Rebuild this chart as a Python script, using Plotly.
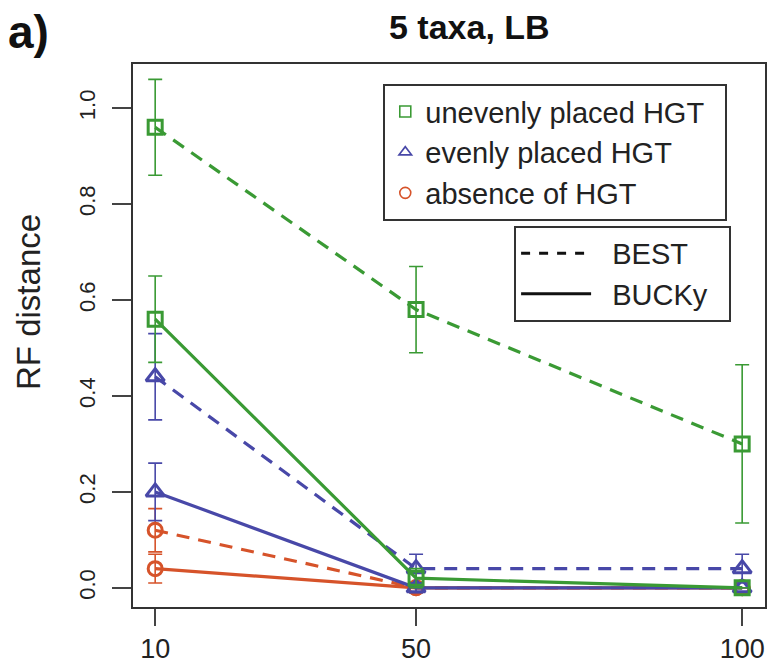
import plotly.graph_objects as go

# ---- data ----
samples = [10, 50, 100]

uneven_best = [0.96, 0.58, 0.30]
uneven_best_err = [0.10, 0.09, 0.165]
uneven_bucky = [0.56, 0.02, 0.00]
uneven_bucky_err = [0.09, 0.02, 0.0]

even_best = [0.44, 0.04, 0.04]
even_best_err = [0.09, 0.03, 0.03]
even_bucky = [0.20, 0.00, 0.00]
even_bucky_err = [0.06, 0.01, 0.0]

absent_best = [0.12, 0.00, 0.00]
absent_best_err = [0.045, 0.01, 0.0]
absent_bucky = [0.04, 0.00, 0.00]
absent_bucky_err = [0.03, 0.0, 0.0]

y_ticks = [0.0, 0.2, 0.4, 0.6, 0.8, 1.0]
y_ticktext = ["0.0", "0.2", "0.4", "0.6", "0.8", "1.0"]

GREEN = "#3a9a34"
BLUE = "#4848a8"
RED = "#d6532a"
FONT = "Liberation Sans, Arial, Helvetica, sans-serif"
DASH = "13px,9px"
NB = "\u00a0"

fig = go.Figure()

def add_series(y, err, color, symbol, dash, msize):
    fig.add_trace(go.Scatter(
        x=samples, y=y, mode="lines+markers",
        line=dict(color=color, width=3.2, dash=dash),
        marker=dict(symbol=symbol, size=msize, color=color,
                    line=dict(color=color, width=3)),
        error_y=dict(type="data", array=err, visible=True,
                     color=color, thickness=1.6, width=7),
        showlegend=False, hoverinfo="skip",
    ))

add_series(absent_bucky, absent_bucky_err, RED, "circle-open", "solid", 14)
add_series(absent_best, absent_best_err, RED, "circle-open", DASH, 14)
add_series(even_bucky, even_bucky_err, BLUE, "triangle-up-open", "solid", 16)
add_series(even_best, even_best_err, BLUE, "triangle-up-open", DASH, 16)
add_series(uneven_bucky, uneven_bucky_err, GREEN, "square-open", "solid", 14)
add_series(uneven_best, uneven_best_err, GREEN, "square-open", DASH, 14)

# legend 1 (symbols)
for name, color, sym in [("unevenly placed HGT", GREEN, "square-open"),
                         ("evenly placed HGT", BLUE, "triangle-up-open"),
                         ("absence of HGT", RED, "circle-open")]:
    fig.add_trace(go.Scatter(
        x=[None], y=[None], mode="markers", name=name + NB * 2,
        marker=dict(symbol=sym, size=11, color=color, line=dict(color=color, width=1.6)),
        legend="legend",
    ))

# legend 2 (line styles)
for name, dash in [("BEST", "dash"), ("BUCKy", "solid")]:
    fig.add_trace(go.Scatter(
        x=[None], y=[None], mode="lines", name=NB * 2 + name + NB * 2,
        line=dict(color="#111111", width=3, dash=dash),
        legend="legend2",
    ))

fig.update_layout(
    width=769, height=665,
    margin=dict(l=133, r=4, t=64, b=58, autoexpand=False),
    paper_bgcolor="white", plot_bgcolor="white",
    font=dict(family=FONT, color="#222222"),
    legend=dict(x=0.396, y=0.963, xanchor="left", yanchor="top",
                bordercolor="#333333", borderwidth=2, bgcolor="white",
                font=dict(size=29, family=FONT, color="#222222"),
                itemwidth=30),
    legend2=dict(x=0.603, y=0.702, xanchor="left", yanchor="top",
                 bordercolor="#333333", borderwidth=2, bgcolor="white",
                 font=dict(size=29, family=FONT, color="#222222"),
                 itemwidth=70),
    xaxis=dict(range=[6.6, 103.5], tickvals=samples, ticktext=[str(s) for s in samples],
               ticks="outside", ticklen=17, tickwidth=2, tickcolor="#444444",
               showline=True, linewidth=2, linecolor="#333333", mirror=True,
               showgrid=False, zeroline=False, automargin=False, ticklabelstandoff=0,
               tickfont=dict(size=27, family=FONT, color="#222222")),
    yaxis=dict(range=[-0.04, 1.092], tickvals=y_ticks, ticktext=y_ticktext,
               tickangle=-90, ticks="outside", ticklen=19, tickwidth=2, tickcolor="#444444",
               showline=True, linewidth=2, linecolor="#333333", mirror=True,
               showgrid=False, zeroline=False, automargin=False, ticklabelstandoff=8,
               tickfont=dict(size=22, family=FONT, color="#222222")),
    annotations=[
        dict(text="5 taxa, LB", x=0.532, y=1.068, xref="paper", yref="paper",
             xanchor="center", yanchor="middle", showarrow=False,
             font=dict(size=34, family=FONT, color="#111111", weight="bold")),
        dict(text="a)", x=-0.165, y=1.059, xref="paper", yref="paper",
             xanchor="center", yanchor="middle", showarrow=False,
             font=dict(size=46, family=FONT, color="#111111", weight="bold")),
        dict(text="RF distance", x=-0.1646, y=0.5617, xref="paper", yref="paper",
             xanchor="center", yanchor="middle", showarrow=False, textangle=-90,
             font=dict(size=33, family=FONT, color="#222222")),
    ],
)

fig.write_html(
    "out.html",
    config={"displayModeBar": False},
    post_script="document.body.style.margin='0';document.body.style.overflow='hidden';",
)
